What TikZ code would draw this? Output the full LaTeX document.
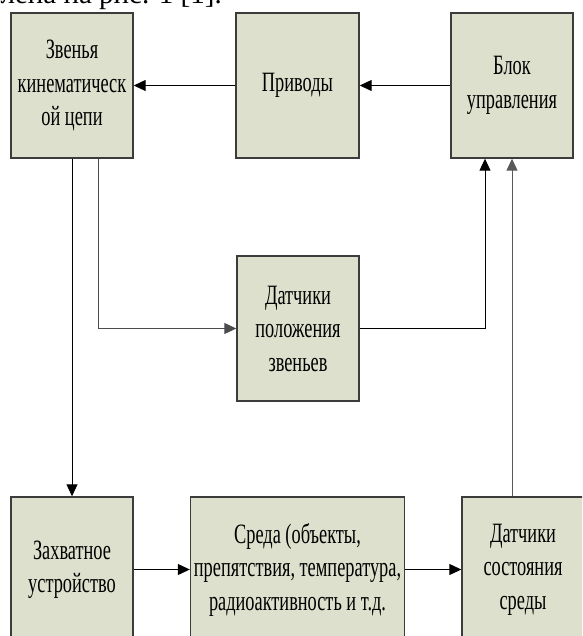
\documentclass[tikz,border=0pt]{standalone}
\usepackage{fontspec}
\setmainfont{Liberation Serif}[FakeStretch=0.655]
\newfontfamily\capfont{Liberation Serif}
\usepackage{tikz}
\usetikzlibrary{arrows.meta}
\usetikzlibrary{positioning}
\definecolor{boxfill}{RGB}{221,224,204}
\definecolor{boxline}{RGB}{60,60,60}
\tikzset{unit/.style = {draw = boxline, line width = 1.4pt, fill = boxfill, rectangle, align = center, minimum width = 122pt, minimum height = 145pt, inner sep = 0, font = \fontsize{28}{33.5}\selectfont}}
\tikzset{arr/.style = {line width = 1pt, -{Triangle[length = 12pt, width = 11pt]}}}

\begin{document}
\begin{tikzpicture}[x = 1pt, y = -1pt]
      \useasboundingbox (0, 0) rectangle (582, 636);
      \clip (0, 0) rectangle (582, 636);
      \node [anchor = base west, font = \capfont\fontsize{29}{33}\selectfont] (caption) at (-3, 4) {лена на рис. 1 [1].};
      \node [unit] (zven) at (72, 85.5) {Звенья\\кинематическ\\ой цепи};
      \node [unit, minimum width = 123pt] (privod) at (297.5, 85.5) {Приводы};
      \node [unit] (blok) at (512, 85.5) {Блок\\управления};
      \node [unit] (dpol) at (298, 328.5) {Датчики\\положения\\звеньев};
      \node [unit] (zahv) at (72, 569.5) {Захватное\\устройство};
      \node [unit, minimum width = 214pt] (sreda) at (297.5, 569.5) {Среда (объекты,\\препятствия, температура,\\радиоактивность и т.д.};
      \node [unit] (dsost) at (523, 569.5) {Датчики\\состояния\\среды};
      \draw [arr] (blok) -- (privod);
      \draw [arr] (privod) -- (zven);
      \draw [arr] (zven) -- (zahv);
      \draw [arr, draw = gray!60!black] ([xshift = 26pt] zven.south) |- (dpol.west);
      \draw [arr] (dpol.east) -| ([xshift = -27pt] blok.south);
      \draw [arr] (zahv) -- (sreda);
      \draw [arr] (sreda) -- (dsost);
      \draw [arr, draw = gray!70!black] (dsost.north -| blok.south) -- (blok.south);
    \end{tikzpicture}
\end{document}
